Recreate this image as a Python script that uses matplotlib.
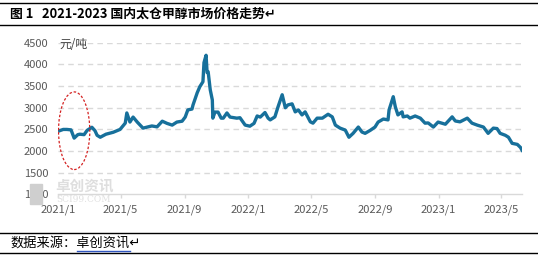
import matplotlib
matplotlib.use("Agg")
import matplotlib.pyplot as plt
import matplotlib.dates as mdates
from matplotlib.patches import Ellipse, Rectangle
import numpy as np
import pandas as pd

plt.rcParams['font.family'] = ['Noto Sans CJK SC', 'DejaVu Sans']

# prices (yuan/ton)
dates = [
    "2021-01-04", "2021-01-11", "2021-01-18", "2021-01-26", "2021-02-01", "2021-02-08",
    "2021-02-12", "2021-02-20", "2021-02-26", "2021-03-07", "2021-03-13", "2021-03-17",
    "2021-03-23", "2021-04-03", "2021-04-17", "2021-04-30", "2021-05-10", "2021-05-13",
    "2021-05-19", "2021-05-25", "2021-06-02", "2021-06-13", "2021-06-23", "2021-06-30",
    "2021-07-10", "2021-07-20", "2021-07-29", "2021-08-08", "2021-08-17", "2021-08-27",
    "2021-09-02", "2021-09-07", "2021-09-15", "2021-09-17", "2021-09-25", "2021-09-30",
    "2021-10-06", "2021-10-08", "2021-10-12", "2021-10-14", "2021-10-16", "2021-10-20",
    "2021-10-24", "2021-10-25", "2021-10-29", "2021-11-04", "2021-11-10", "2021-11-14",
    "2021-11-21", "2021-11-27", "2021-12-10", "2021-12-16", "2021-12-26",
    "2022-01-04", "2022-01-12", "2022-01-18", "2022-01-24", "2022-02-02", "2022-02-08",
    "2022-02-12", "2022-02-21", "2022-02-27", "2022-03-07", "2022-03-13", "2022-03-18",
    "2022-03-26", "2022-04-01", "2022-04-07", "2022-04-14", "2022-04-20", "2022-04-30",
    "2022-05-05", "2022-05-13", "2022-05-23", "2022-06-03", "2022-06-11", "2022-06-17",
    "2022-06-26", "2022-07-06", "2022-07-13", "2022-07-21", "2022-07-31", "2022-08-07",
    "2022-08-13", "2022-08-23", "2022-09-01", "2022-09-07", "2022-09-17", "2022-09-26",
    "2022-09-28", "2022-10-06", "2022-10-10", "2022-10-15", "2022-10-23", "2022-10-25",
    "2022-11-02", "2022-11-07", "2022-11-17", "2022-11-27", "2022-12-06", "2022-12-12",
    "2022-12-22", "2022-12-31",
    "2023-01-14", "2023-01-27", "2023-02-02", "2023-02-11", "2023-02-25", "2023-03-06",
    "2023-03-16", "2023-03-28", "2023-04-06", "2023-04-16", "2023-04-23", "2023-04-29",
    "2023-05-09", "2023-05-15", "2023-05-22", "2023-06-01", "2023-06-07", "2023-06-10",
]
prices = [
    2470, 2500, 2500, 2490, 2300, 2380,
    2390, 2380, 2480, 2550, 2470, 2365,
    2320, 2390, 2435, 2500, 2645, 2880,
    2670, 2785, 2670, 2530, 2560, 2580,
    2560, 2690, 2640, 2600, 2670, 2690,
    2785, 2950, 2970, 3065, 3345, 3485,
    3600, 4040, 4210, 3810, 3830, 3415,
    3180, 2760, 2900, 2900, 2760, 2760,
    2880, 2785, 2760, 2770, 2600,
    2575, 2640, 2810, 2785, 2890, 2760,
    2720, 2790, 3020, 3300, 3000, 3065,
    3090, 2905, 2950, 2835, 2905, 2675,
    2645, 2760, 2760, 2850, 2790, 2600,
    2530, 2485, 2320, 2410, 2555, 2440,
    2410, 2480, 2555, 2670, 2740, 2720,
    2950, 3255, 3020, 2835, 2905, 2790,
    2810, 2760, 2810, 2760, 2645, 2650,
    2555, 2670,
    2620, 2790, 2695, 2675, 2760, 2645,
    2600, 2555, 2410, 2530, 2520, 2410,
    2365, 2320, 2180, 2155, 2085, 2020,
]
tick_dates = ["2021-01-01", "2021-05-01", "2021-09-01", "2022-01-01",
              "2022-05-01", "2022-09-01", "2023-01-01", "2023-05-01"]
tick_labels = ["2021/1", "2021/5", "2021/9", "2022/1",
               "2022/5", "2022/9", "2023/1", "2023/5"]
y_ticks = [1000, 1500, 2000, 2500, 3000, 3500, 4000, 4500]

x = pd.to_datetime(dates)
xt = pd.to_datetime(tick_dates)

fig = plt.figure(figsize=(5.38, 2.57), dpi=100)
ax = fig.add_axes([0.1078, 0.2432, 0.8625, 0.5907])

grey = "#d9d9d9"
ax.plot(x, prices, color="#17709b", lw=2.4, solid_joinstyle="round", zorder=3)

ax.set_ylim(1000, 4500)
ax.set_yticks(y_ticks)
ax.set_xlim(pd.Timestamp("2021-01-01"), pd.Timestamp("2023-06-10"))
ax.set_xticks(xt)
ax.set_xticklabels(tick_labels)

for v in y_ticks[1:]:
    ax.axhline(v, color=grey, lw=1, ls=(0, (4, 3)), zorder=1)

for s in ["top", "right", "left"]:
    ax.spines[s].set_visible(False)
ax.spines["bottom"].set_color(grey)
ax.spines["bottom"].set_linewidth(1)

ax.tick_params(axis="y", length=0, pad=7, labelsize=8, labelcolor="#595959")
ax.tick_params(axis="x", length=3, width=1, color=grey, pad=4,
               labelsize=8, labelcolor="#595959")

ax.text(0.003, 0.99, "元/吨", transform=ax.transAxes, ha="left", va="center",
        fontsize=8.5, color="#404040")

# red dashed ellipse highlighting early 2021
ell = Ellipse((mdates.date2num(pd.Timestamp("2021-02-01")), 2470),
              width=60, height=1790, fill=False, ec="#d42020", lw=0.9,
              ls=(0, (2, 1.5)), zorder=4)
ax.add_patch(ell)

# watermark
fig.patches.append(Rectangle((30 / 538, 1 - 204 / 257), 12 / 538, 20 / 257,
                             transform=fig.transFigure, color="#cfcfcf", zorder=0))
fig.text(55 / 538, 1 - 185 / 257, "卓创资讯", fontsize=10.5, color="#dedede",
         ha="left", va="center", fontweight="bold")
fig.text(56 / 538, 1 - 199 / 257, "SCI99.COM", fontsize=6.5, color="#e0e0e0",
         ha="left", va="center", family="DejaVu Serif")

# title bar and source lines
for yy in [3, 25, 233, 253]:
    fig.add_artist(plt.Line2D([0, 1], [1 - yy / 257] * 2, transform=fig.transFigure,
                              color="black", lw=1))
fig.text(10 / 538, 1 - 14 / 257, "图 1   2021-2023 国内太仓甲醇市场价格走势↵",
         fontsize=9.3, fontweight="bold", ha="left", va="center")
fig.text(10 / 538, 1 - 243 / 257, "数据来源：卓创资讯↵", fontsize=9.5,
         ha="left", va="center")
fig.add_artist(plt.Line2D([77 / 538, 130 / 538], [1 - 250.5 / 257] * 2,
                          transform=fig.transFigure, color="#2f55c0", lw=1))

fig.savefig("out.png", dpi=100)
